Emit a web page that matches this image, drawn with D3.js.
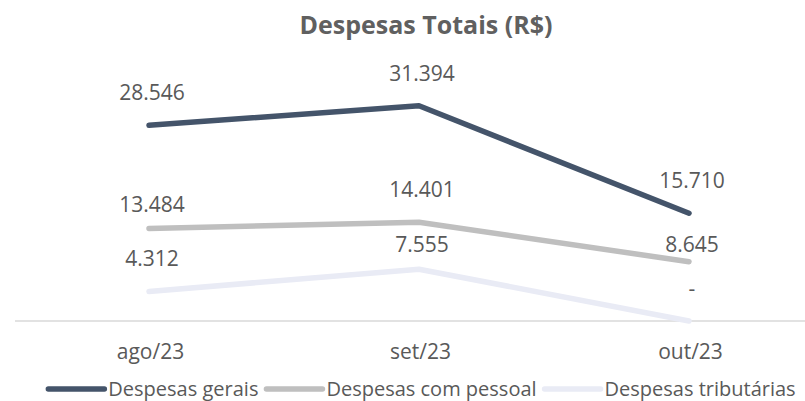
<!DOCTYPE html>
<html>
<head>
<meta charset="utf-8">
<script src="https://cdn.jsdelivr.net/npm/d3@7"></script>
<style>
	body { margin: 0; background: #fff; }
	text { font-family: "Open Sans", sans-serif; fill: #595959; }
</style>
</head>
<body>
<svg id="mainsvg" width="805" height="401"></svg>
<script>
// data
var months = ["ago/23", "set/23", "out/23"];
var seriesNames = ["Despesas gerais", "Despesas com pessoal", "Despesas tributárias"];
var gerais = [28546, 31394, 15710];
var pessoal = [13484, 14401, 8645];
var tributarias = [4312, 7555, 0];

var colors = ["#44546A", "#BFBFBF", "#E9EBF5"];

// label height above the point (px); a few were moved by hand in the original
var labelLift = 25;
var labelLiftFix = { "1|0": 17, "1|2": 10, "2|1": 17 };

var w = 805, h = 401;
var svg = d3.select("#mainsvg");

var series = [gerais, pessoal, tributarias].map(function(vals, i) {
	return { name: seriesNames[i], color: colors[i], values: vals };
});

var x = d3.scalePoint()
	.domain(months)
	.range([149, 689]);

var y = d3.scaleLinear()
	.domain([0, 35000])
	.range([321, 81]);

var ptBR = d3.formatLocale({ decimal: ",", thousands: ".", grouping: [3], currency: ["R$", ""] });
var fmt = ptBR.format(",d");

// title
svg.append("text")
	.attr("x", 426)
	.attr("y", 34)
	.attr("text-anchor", "middle")
	.style("font-size", "25px")
	.style("font-weight", "bold")
	.style("fill", "#606060")
	.text("Despesas Totais (R$)");

// baseline axis
svg.append("line")
	.attr("x1", 15).attr("x2", w)
	.attr("y1", y(0)).attr("y2", y(0))
	.attr("stroke", "#D9D9D9")
	.attr("stroke-width", 1.5);

var xAxis = svg.append("g")
	.attr("transform", "translate(0," + y(0) + ")")
	.call(d3.axisBottom(x).tickSize(0).tickPadding(23));
xAxis.select(".domain").remove();
xAxis.selectAll("text")
	.attr("dx", "1px")
	.style("font-size", "21px")
	.style("font-family", "'Open Sans', sans-serif")
	.attr("fill", "#595959");

var line = d3.line()
	.x(function(d, i) { return x(months[i]); })
	.y(function(d) { return y(d); });

// last series drawn first so the dark one sits on top
var lines = svg.append("g").attr("class", "lines");
lines.selectAll("path")
	.data(series.slice().reverse())
	.enter().append("path")
	.attr("d", function(d) { return line(d.values); })
	.attr("fill", "none")
	.attr("stroke", function(d) { return d.color; })
	.attr("stroke-width", 5.5)
	.attr("stroke-linecap", "round")
	.attr("stroke-linejoin", "round");

var labels = svg.append("g").attr("class", "labels");
series.forEach(function(s, si) {
	labels.selectAll(null)
		.data(s.values)
		.enter().append("text")
		.attr("x", function(d, i) { return x(months[i]) + 3; })
		.attr("y", function(d, i) {
			var k = si + "|" + i;
			var lift = (k in labelLiftFix) ? labelLiftFix[k] : labelLift;
			return y(d) - lift;
		})
		.attr("text-anchor", "middle")
		.style("font-size", "21px")
		.text(function(d) { return d === 0 ? "-" : fmt(d); });
});

// legend, centred under the plot
var legend = svg.append("g").attr("class", "legend");
var items = legend.selectAll("g")
	.data(series)
	.enter().append("g");
items.append("line")
	.attr("x1", 0).attr("x2", 56)
	.attr("y1", 0).attr("y2", 0)
	.attr("stroke", function(d) { return d.color; })
	.attr("stroke-width", 5.5)
	.attr("stroke-linecap", "round");
items.append("text")
	.attr("x", 60)
	.attr("y", 6.5)
	.style("font-size", "20px")
	.text(function(d) { return d.name; });

var offs = [], cur = 0;
items.each(function() {
	offs.push(cur);
	cur += 60 + this.querySelector("text").getComputedTextLength() + 8;
});
var total = cur - 8;
var start = 422 - total / 2;
items.attr("transform", function(d, i) { return "translate(" + (start + offs[i]) + ",389)"; });
</script>
</body>
</html>
